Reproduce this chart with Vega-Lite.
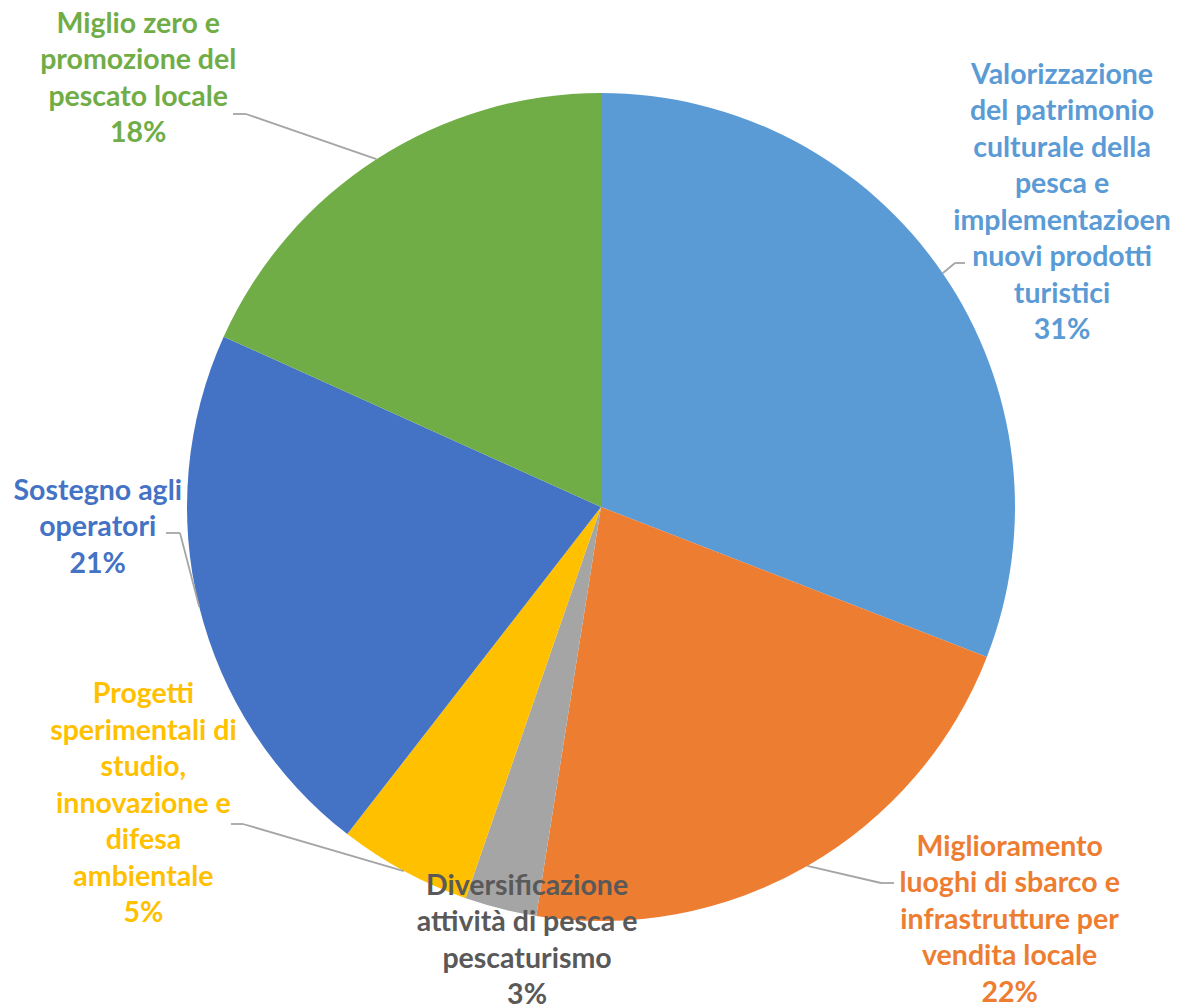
{
  "$schema": "https://vega.github.io/schema/vega-lite/v6.json",
  "width": 1156,
  "height": 994,
  "autosize": {"type": "none"},
  "padding": {"left": 23, "top": 10, "right": 0, "bottom": 0},
  "background": "white",
  "config": {"view": {"stroke": null}},
  "data": {
    "values": [
      {"n": 1, "key": "Valorizzazione del patrimonio culturale della pesca e implementazioen nuovi prodotti turistici", "value": 30.9, "label": "Valorizzazione\ndel patrimonio\nculturale della\npesca e\nimplementazioen\nnuovi prodotti\nturistici\n31%"},
      {"n": 2, "key": "Miglioramento luoghi di sbarco e infrastrutture per vendita locale", "value": 21.6, "label": "Miglioramento\nluoghi di sbarco e\ninfrastrutture per\nvendita locale\n22%"},
      {"n": 3, "key": "Diversificazione attività di pesca e pescaturismo", "value": 2.8, "label": "Diversificazione\nattività di pesca e\npescaturismo\n3%"},
      {"n": 4, "key": "Progetti sperimentali di studio, innovazione e difesa ambientale", "value": 5.2, "label": "Progetti\nsperimentali di\nstudio,\ninnovazione e\ndifesa\nambientale\n5%"},
      {"n": 5, "key": "Sostegno agli operatori", "value": 21.25, "label": "Sostegno agli\noperatori\n21%"},
      {"n": 6, "key": "Miglio zero e promozione del pescato locale", "value": 18.25, "label": "Miglio zero e\npromozione del\npescato locale\n18%"}
    ]
  },
  "layer": [
    {
      "mark": {"type": "arc", "outerRadius": 414},
      "encoding": {
        "theta": {"field": "value", "type": "quantitative", "stack": true, "scale": {"domain": [0, 100]}},
        "order": {"field": "n", "type": "quantitative"},
        "color": {
          "field": "n", "type": "nominal", "legend": null,
          "scale": {"domain": [1, 2, 3, 4, 5, 6], "range": ["#5B9BD5", "#ED7D31", "#A5A5A5", "#FFC000", "#4472C4", "#70AD47"]}
        }
      }
    },
    {
      "transform": [
        {"window": [{"op": "sum", "field": "value", "as": "cum"}], "sort": [{"field": "n"}]},
        {"calculate": "2*PI*(datum.cum - datum.value/2)/100", "as": "a"},
        {"calculate": "414*sin(datum.a)", "as": "sx"},
        {"calculate": "-414*cos(datum.a)", "as": "sy"},
        {"calculate": "[0,354,280,0,-358,-421,-355][datum.n]", "as": "ex"},
        {"calculate": "[0,-244,376,0,317,26,-393][datum.n]", "as": "ey"},
        {"filter": "datum.n != 3"}
      ],
      "mark": {"type": "rule", "color": "#A5A5A5", "strokeWidth": 1.8},
      "encoding": {
        "x": {"field": "sx", "type": "quantitative", "axis": null, "scale": {"domain": [-578, 578], "nice": false, "zero": false}},
        "y": {"field": "sy", "type": "quantitative", "axis": null, "scale": {"domain": [-497, 497], "nice": false, "zero": false, "reverse": true}},
        "x2": {"field": "ex"},
        "y2": {"field": "ey"}
      }
    },
    {
      "transform": [
        {"calculate": "[0,354,280,0,-358,-421,-355][datum.n]", "as": "ex"},
        {"calculate": "[0,-244,376,0,317,26,-393][datum.n]", "as": "ey"},
        {"calculate": "datum.ex + [0,10,13,0,-12,-14,-13][datum.n]", "as": "fx"},
        {"filter": "datum.n != 3"}
      ],
      "mark": {"type": "rule", "color": "#A5A5A5", "strokeWidth": 1.8},
      "encoding": {
        "x": {"field": "ex", "type": "quantitative"},
        "y": {"field": "ey", "type": "quantitative"},
        "x2": {"field": "fx"}
      }
    },
    {
      "transform": [
        {"window": [{"op": "sum", "field": "value", "as": "cum"}], "sort": [{"field": "n"}]},
        {"calculate": "datum.cum - datum.value/2", "as": "mid"},
        {"filter": "datum.n == 1"}
      ],
      "mark": {"type": "text", "radius": 555, "dx": 3, "dy": -119, "font": "Lato", "fontWeight": "bold", "fontSize": 28.5, "lineHeight": 36.5, "lineBreak": "\n", "align": "center", "baseline": "middle", "color": "#5B9BD5"},
      "encoding": {"theta": {"field": "mid", "type": "quantitative", "stack": null}, "text": {"field": "label"}}
    },
    {
      "transform": [
        {"window": [{"op": "sum", "field": "value", "as": "cum"}], "sort": [{"field": "n"}]},
        {"calculate": "datum.cum - datum.value/2", "as": "mid"},
        {"filter": "datum.n == 2"}
      ],
      "mark": {"type": "text", "radius": 475, "dx": 172, "dy": -72, "font": "Lato", "fontWeight": "bold", "fontSize": 28.5, "lineHeight": 36.5, "lineBreak": "\n", "align": "center", "baseline": "middle", "color": "#ED7D31"},
      "encoding": {"theta": {"field": "mid", "type": "quantitative", "stack": null}, "text": {"field": "label"}}
    },
    {
      "transform": [
        {"window": [{"op": "sum", "field": "value", "as": "cum"}], "sort": [{"field": "n"}]},
        {"calculate": "datum.cum - datum.value/2", "as": "mid"},
        {"filter": "datum.n == 3"}
      ],
      "mark": {"type": "text", "radius": 445, "dx": 34, "dy": -53, "font": "Lato", "fontWeight": "bold", "fontSize": 28.5, "lineHeight": 36.5, "lineBreak": "\n", "align": "center", "baseline": "middle", "color": "#595959"},
      "encoding": {"theta": {"field": "mid", "type": "quantitative", "stack": null}, "text": {"field": "label"}}
    },
    {
      "transform": [
        {"window": [{"op": "sum", "field": "value", "as": "cum"}], "sort": [{"field": "n"}]},
        {"calculate": "datum.cum - datum.value/2", "as": "mid"},
        {"filter": "datum.n == 4"}
      ],
      "mark": {"type": "text", "radius": 480, "dx": -229, "dy": -235, "font": "Lato", "fontWeight": "bold", "fontSize": 28.5, "lineHeight": 36.5, "lineBreak": "\n", "align": "center", "baseline": "middle", "color": "#FFC000"},
      "encoding": {"theta": {"field": "mid", "type": "quantitative", "stack": null}, "text": {"field": "label"}}
    },
    {
      "transform": [
        {"window": [{"op": "sum", "field": "value", "as": "cum"}], "sort": [{"field": "n"}]},
        {"calculate": "datum.cum - datum.value/2", "as": "mid"},
        {"filter": "datum.n == 5"}
      ],
      "mark": {"type": "text", "radius": 500, "dx": -18, "dy": -137, "font": "Lato", "fontWeight": "bold", "fontSize": 28.5, "lineHeight": 36.5, "lineBreak": "\n", "align": "center", "baseline": "middle", "color": "#4472C4"},
      "encoding": {"theta": {"field": "mid", "type": "quantitative", "stack": null}, "text": {"field": "label"}}
    },
    {
      "transform": [
        {"window": [{"op": "sum", "field": "value", "as": "cum"}], "sort": [{"field": "n"}]},
        {"calculate": "datum.cum - datum.value/2", "as": "mid"},
        {"filter": "datum.n == 6"}
      ],
      "mark": {"type": "text", "radius": 560, "dx": -159, "dy": -13, "font": "Lato", "fontWeight": "bold", "fontSize": 28.5, "lineHeight": 36.5, "lineBreak": "\n", "align": "center", "baseline": "middle", "color": "#70AD47"},
      "encoding": {"theta": {"field": "mid", "type": "quantitative", "stack": null}, "text": {"field": "label"}}
    }
  ]
}
